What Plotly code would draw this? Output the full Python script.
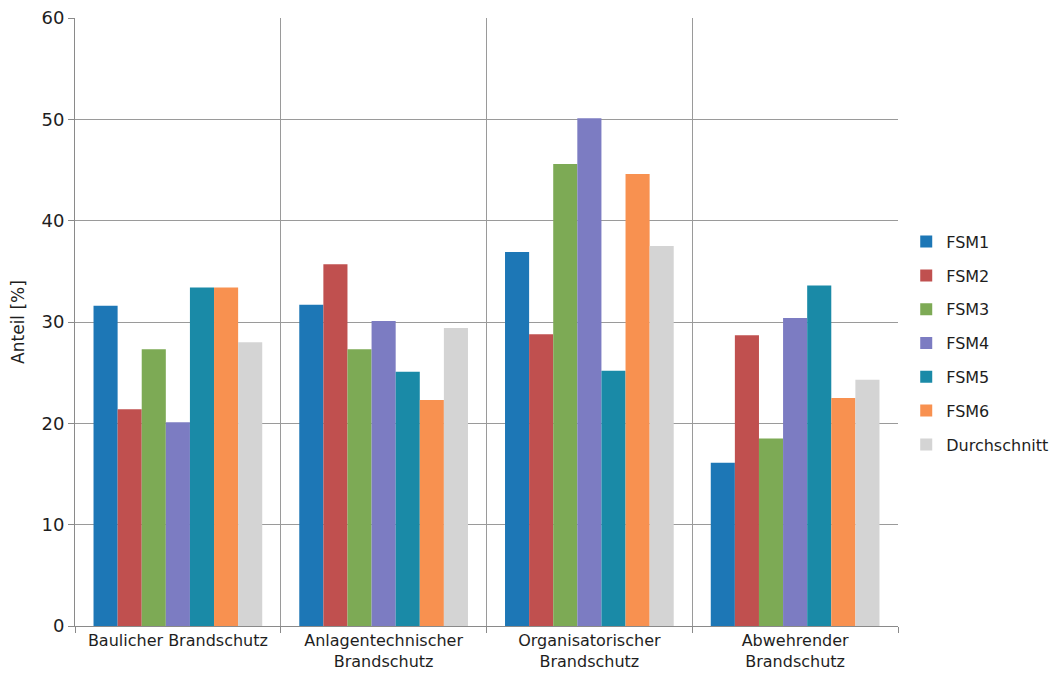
import plotly.graph_objects as go

categories = [
    "Baulicher Brandschutz",
    "Anlagentechnischer<br>Brandschutz",
    "Organisatorischer<br>Brandschutz",
    "Abwehrender<br>Brandschutz",
]

series_names = ["FSM1", "FSM2", "FSM3", "FSM4", "FSM5", "FSM6", "Durchschnitt"]

fsm1 = [31.6, 31.7, 36.9, 16.1]
fsm2 = [21.4, 35.7, 28.8, 28.7]
fsm3 = [27.3, 27.3, 45.6, 18.5]
fsm4 = [20.1, 30.1, 50.1, 30.4]
fsm5 = [33.4, 25.1, 25.2, 33.6]
fsm6 = [33.4, 22.3, 44.6, 22.5]
durchschnitt = [28.0, 29.4, 37.5, 24.3]

series_values = [fsm1, fsm2, fsm3, fsm4, fsm5, fsm6, durchschnitt]
colors = ["#1D77B6", "#C0504F", "#7DAA55", "#7C7CC2", "#1A8AA7", "#F89150", "#D4D4D4"]

y_ticks = [0, 10, 20, 30, 40, 50, 60]

FONT = "DejaVu Sans, Verdana, sans-serif"
TEXT = "#1E1E1E"

fig = go.Figure()
for name, vals, col in zip(series_names, series_values, colors):
    fig.add_trace(go.Bar(
        x=categories, y=vals, name=name, legendgroup=name,
        marker=dict(color=col, line=dict(width=0)),
    ))

fig.update_layout(
    width=1062, height=687,
    barmode="group", bargap=0.18, bargroupgap=0,
    plot_bgcolor="white", paper_bgcolor="white",
    margin=dict(l=75, r=164, t=18, b=61, autoexpand=False),
    font=dict(family=FONT, size=16, color=TEXT),
    legend=dict(
        x=1.01, xanchor="left", y=0.66, yanchor="top",
        font=dict(family=FONT, size=16, color=TEXT),
        tracegroupgap=10, itemwidth=30,
        bgcolor="rgba(0,0,0,0)",
    ),
    xaxis=dict(
        type="category", tickson="boundaries",
        showgrid=True, gridcolor="#9A9A9A", gridwidth=1,
        showline=True, linecolor="#8A8A8A", linewidth=1,
        ticks="outside", ticklen=6, tickcolor="#8A8A8A",
        tickfont=dict(family=FONT, size=16, color=TEXT),
    ),
    yaxis=dict(
        range=[0, 60], tickvals=y_ticks,
        showgrid=True, gridcolor="#9A9A9A", gridwidth=1,
        showline=True, linecolor="#8A8A8A", linewidth=1,
        ticks="outside", ticklen=6, tickcolor="#8A8A8A",
        tickfont=dict(family=FONT, size=18, color=TEXT),
        title=dict(text="Anteil [%]", font=dict(family=FONT, size=17, color=TEXT), standoff=12),
        zeroline=False,
    ),
)

fig.write_html("out.html")
